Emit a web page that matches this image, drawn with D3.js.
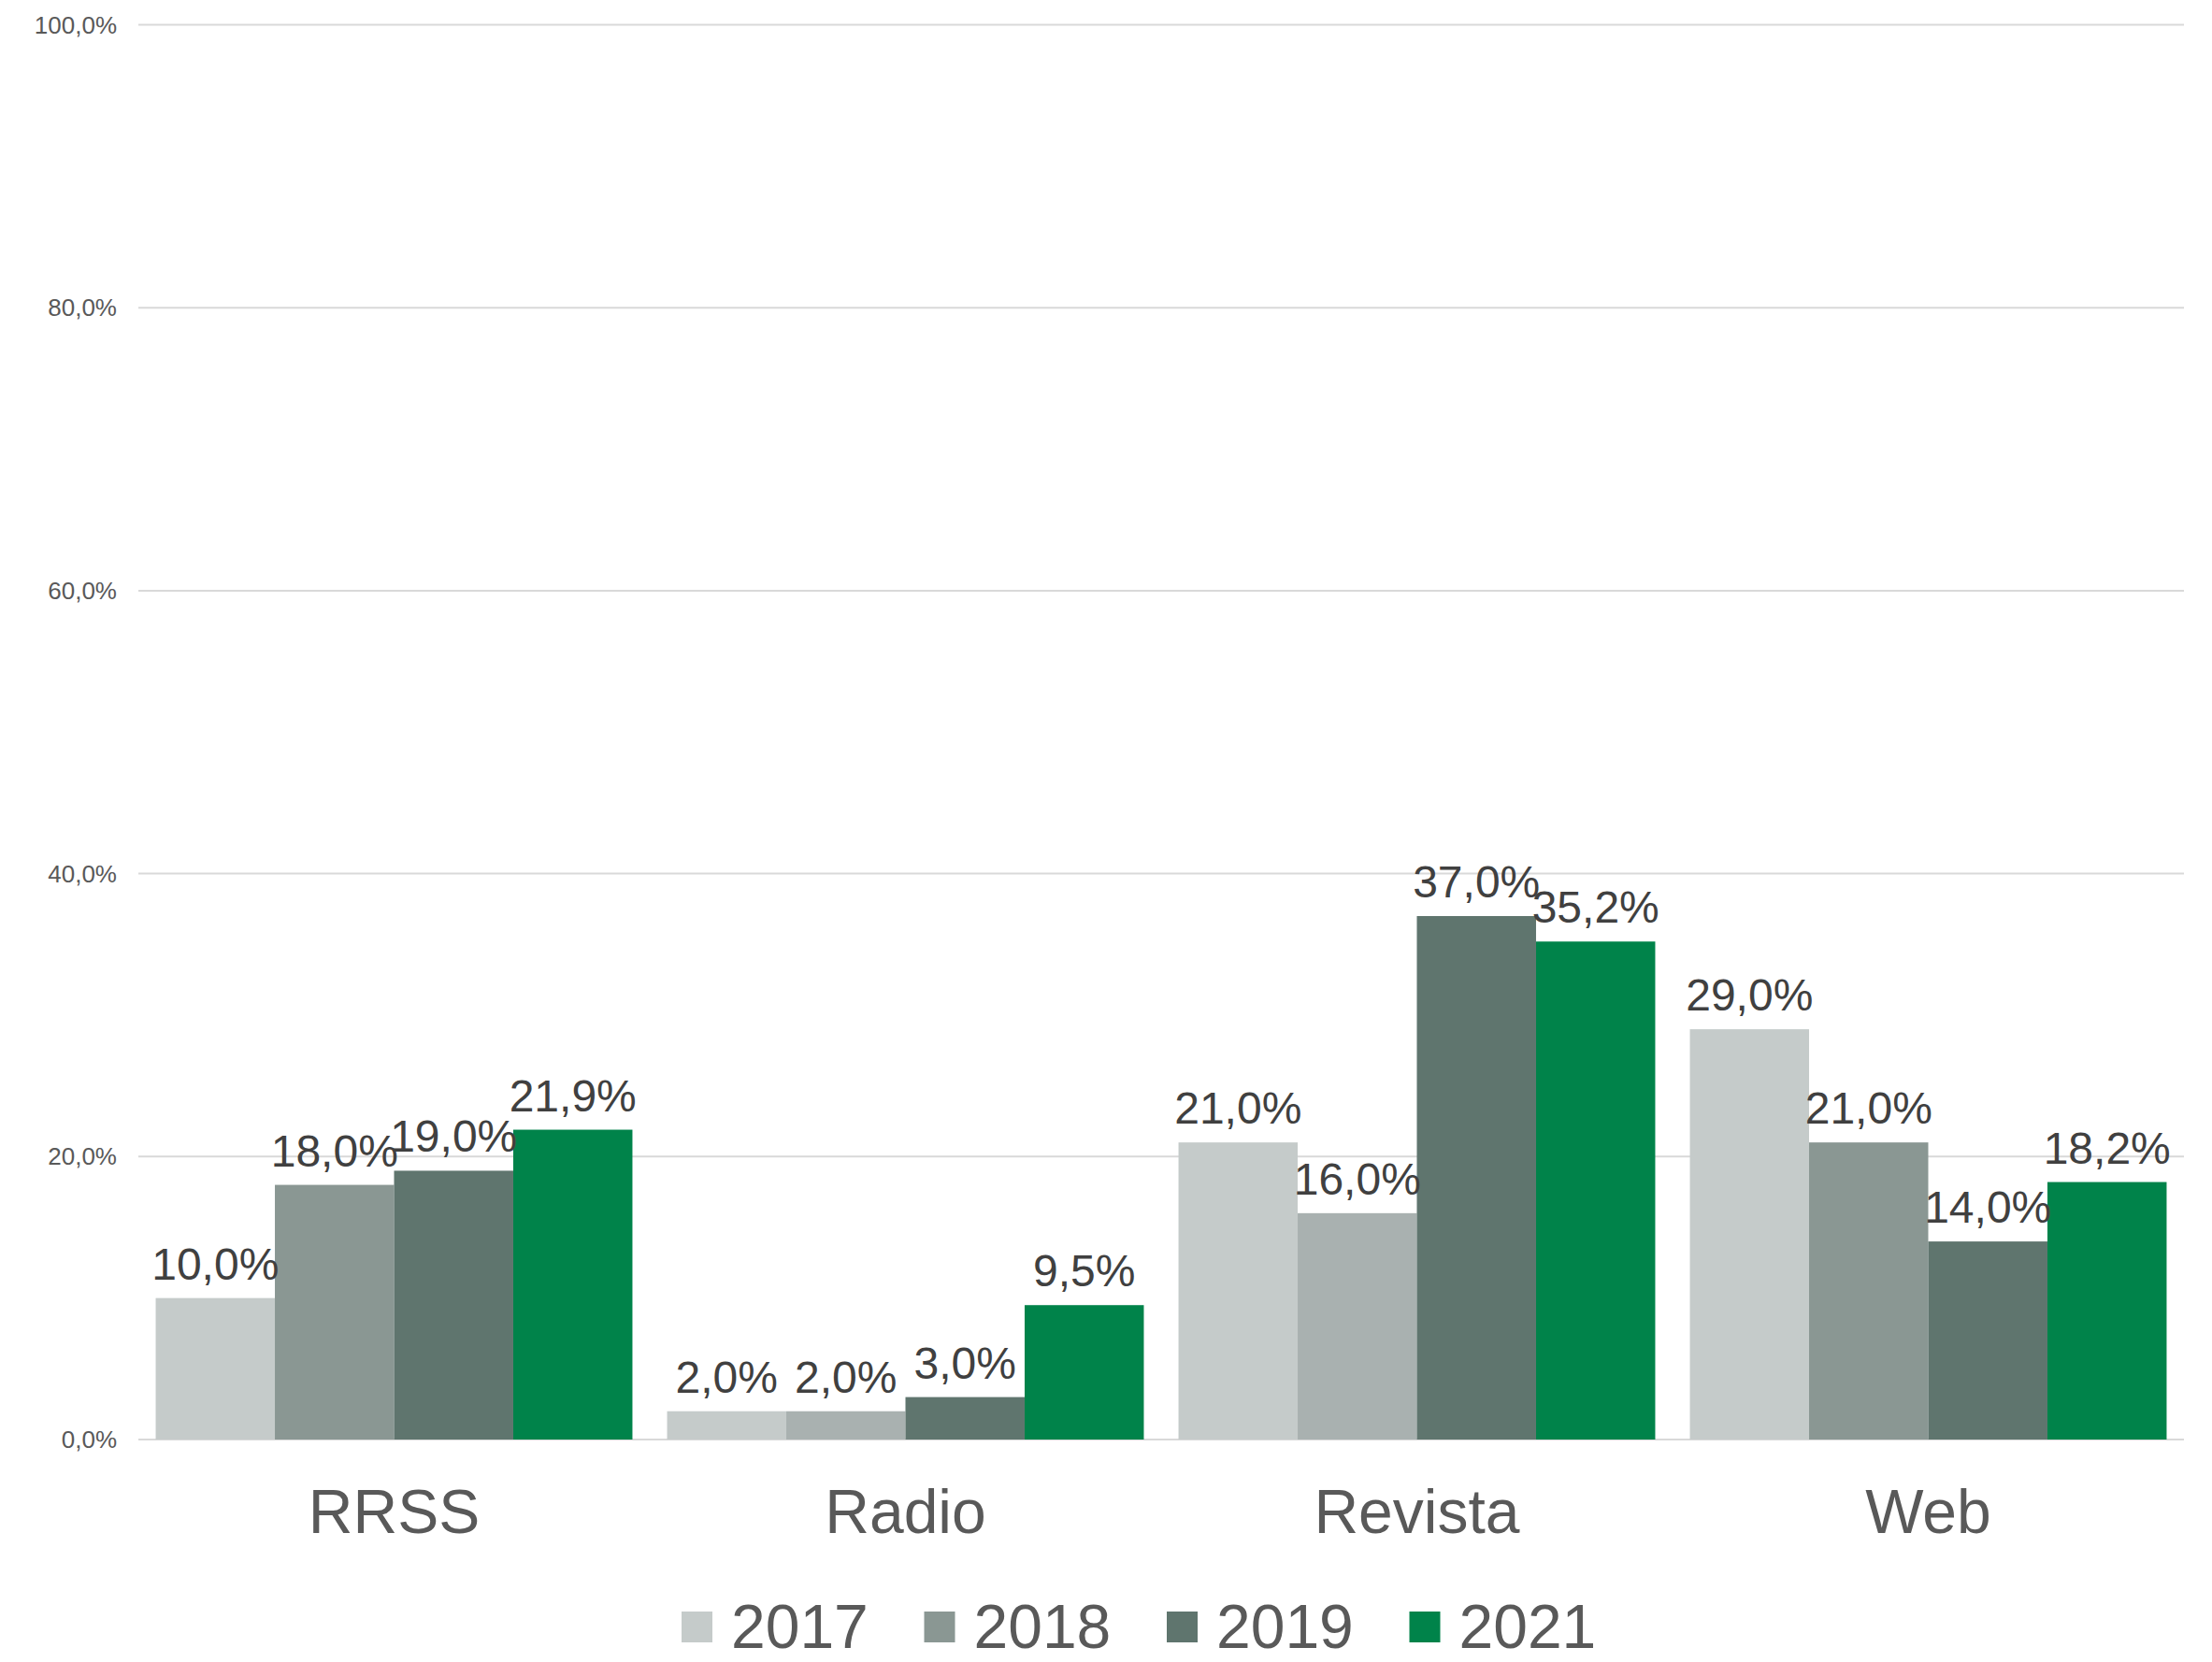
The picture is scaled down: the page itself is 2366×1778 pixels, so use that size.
<!DOCTYPE html>
<html>
<head>
<meta charset="utf-8">
<script src="https://cdn.jsdelivr.net/npm/d3@7"></script>
<style>
  body { margin: 0; background: #fff; }
  text { font-family: "Liberation Sans", Arial, sans-serif; }
</style>
</head>
<body>
<div id="chart"></div>
<script>
// chart data
var categories = ["RRSS", "Radio", "Revista", "Web"];
var years = ["2017", "2018", "2019", "2021"];
var v2017 = [10.0, 2.0, 21.0, 29.0];
var v2018 = [18.0, 2.0, 16.0, 21.0];
var v2019 = [19.0, 3.0, 37.0, 14.0];
var v2021 = [21.9, 9.5, 35.2, 18.2];
var yTicks = [0, 20, 40, 60, 80, 100];

var series = [v2017, v2018, v2019, v2021];

// colours per year, 2018 is a lighter grey on Radio and Revista
var colors = ["#c5cbca", "#8a9793", "#5f756e", "#00834a"];
var light2018 = "#a9b1b0";

var width = 2366, height = 1778;
var margin = {left: 148, right: 30, top: 26.5, bottom: 238};

var svg = d3.select("#chart").append("svg")
    .attr("width", width)
    .attr("height", height);

var pct = d3.formatLocale({decimal: ",", thousands: ".", grouping: [3], currency: ["", "€"]})
    .format(".1f");

var x = d3.scaleBand()
    .domain(categories)
    .range([margin.left, width - margin.right])
    .paddingInner(0.0678)
    .paddingOuter(0.0339);

var x1 = d3.scaleBand()
    .domain(years)
    .range([0, x.bandwidth()]);

var y = d3.scaleLinear()
    .domain([0, 100])
    .range([height - margin.bottom, margin.top]);

// gridlines
svg.append("g").selectAll("line")
    .data(yTicks)
    .enter().append("line")
    .attr("x1", margin.left)
    .attr("x2", width - margin.right)
    .attr("y1", function(d){ return y(d); })
    .attr("y2", function(d){ return y(d); })
    .attr("stroke", "#d9d9d9")
    .attr("stroke-width", 2);

// y axis labels
svg.append("g").selectAll("text")
    .data(yTicks)
    .enter().append("text")
    .attr("x", 125)
    .attr("y", function(d){ return y(d); })
    .attr("dy", "0.35em")
    .attr("text-anchor", "end")
    .attr("font-size", 26)
    .attr("fill", "#595959")
    .text(function(d){ return pct(d) + "%"; });

// bars
var rows = [];
categories.forEach(function(c, i) {
    years.forEach(function(yr, j) {
        rows.push({cat: c, year: yr, j: j, value: series[j][i]});
    });
});

function barColor(d) {
    if (d.year === "2018" && (d.cat === "Radio" || d.cat === "Revista")) return light2018;
    return colors[d.j];
}

svg.append("g").selectAll("rect")
    .data(rows)
    .enter().append("rect")
    .attr("x", function(d){ return x(d.cat) + x1(d.year); })
    .attr("y", function(d){ return y(d.value); })
    .attr("width", x1.bandwidth())
    .attr("height", function(d){ return y(0) - y(d.value); })
    .attr("fill", barColor);

// value labels
svg.append("g").selectAll("text")
    .data(rows)
    .enter().append("text")
    .attr("x", function(d){ return x(d.cat) + x1(d.year) + x1.bandwidth() / 2; })
    .attr("y", function(d){ return y(d.value) - 20; })
    .attr("text-anchor", "middle")
    .attr("font-size", 48)
    .attr("fill", "#404040")
    .text(function(d){ return pct(d.value) + "%"; });

// category labels
svg.append("g").selectAll("text")
    .data(categories)
    .enter().append("text")
    .attr("x", function(d){ return x(d) + x.bandwidth() / 2; })
    .attr("y", 1640)
    .attr("text-anchor", "middle")
    .attr("font-size", 66)
    .attr("fill", "#595959")
    .text(function(d){ return d; });

// legend
var legend = svg.append("g").selectAll("g")
    .data(years)
    .enter().append("g")
    .attr("transform", function(d, i){ return "translate(" + (729 + i * 259.5) + ",0)"; });

legend.append("rect")
    .attr("x", 0)
    .attr("y", 1724)
    .attr("width", 33)
    .attr("height", 33)
    .attr("fill", function(d, i){ return colors[i]; });

legend.append("text")
    .attr("x", 53)
    .attr("y", 1763)
    .attr("font-size", 66)
    .attr("fill", "#595959")
    .text(function(d){ return d; });
</script>
</body>
</html>
